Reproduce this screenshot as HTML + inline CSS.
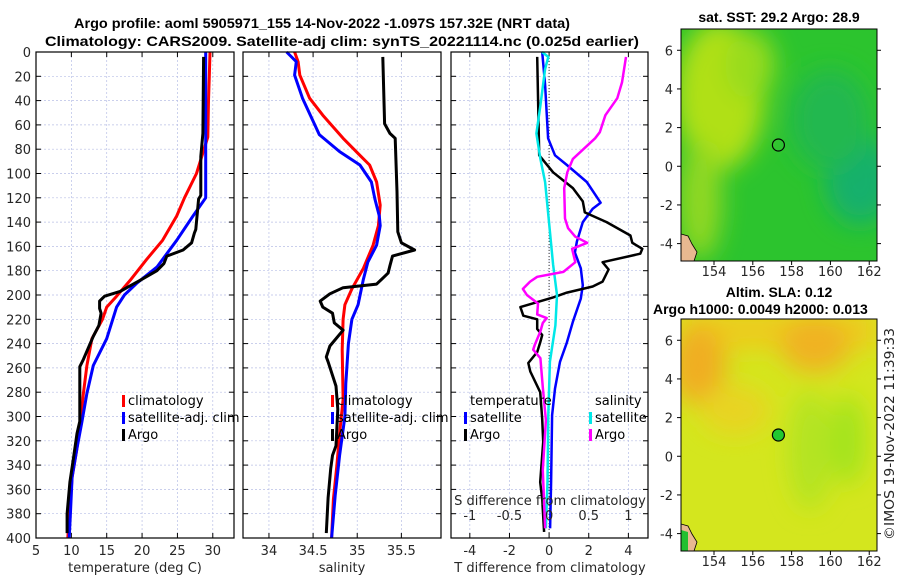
<!DOCTYPE html>
<html><head><meta charset="utf-8"><style>
html,body{margin:0;padding:0;background:#fff;}
svg{display:block;font-family:"DejaVu Sans","Liberation Sans",sans-serif;}
.tk{font-size:13px;fill:#262626;}
.ttl{font-size:14px;font-weight:bold;fill:#000;font-family:"Liberation Sans",sans-serif;}
.lg{font-size:13px;fill:#000;}
</style></head><body>
<svg id="fig" width="900" height="580" viewBox="0 0 900 580" xmlns="http://www.w3.org/2000/svg">
<defs>
<filter id="blur1" x="-50%" y="-50%" width="200%" height="200%"><feGaussianBlur stdDeviation="12"/></filter>
<clipPath id="clipM1"><rect x="681" y="29" width="196" height="232"/></clipPath>
<clipPath id="clipM2"><rect x="681" y="319" width="196" height="232"/></clipPath>
</defs>
<text class="ttl" x="322" y="28" text-anchor="middle" textLength="496" lengthAdjust="spacingAndGlyphs">Argo profile: aoml 5905971_155 14-Nov-2022 -1.097S 157.32E (NRT data)</text>
<text class="ttl" x="342" y="46" text-anchor="middle" textLength="594" lengthAdjust="spacingAndGlyphs">Climatology: CARS2009. Satellite-adj clim: synTS_20221114.nc (0.025d earlier)</text>

<g>
<g clip-path="url(#clipM1)">
<rect x="681" y="29" width="196" height="232" fill="#2cc42e"/>
<g filter="url(#blur1)">
<ellipse cx="720" cy="95" rx="45" ry="75" fill="#b0e014"/>
<ellipse cx="700" cy="200" rx="22" ry="60" fill="#90d820"/>
<ellipse cx="750" cy="65" rx="25" ry="35" fill="#98dc1a"/>
<ellipse cx="860" cy="180" rx="35" ry="45" fill="#14b06c"/>
<ellipse cx="830" cy="120" rx="40" ry="50" fill="#22b850"/>
</g>
<path d="M681,234 L688,236 L692,244 L697,252 L694,261 L681,261 Z" fill="#e8b890" stroke="#000" stroke-width="0.8"/>
</g>
<rect x="681" y="29" width="196" height="232" fill="none" stroke="#000" stroke-width="1"/>
<circle cx="778.4" cy="145" r="6" fill="none" stroke="#000" stroke-width="1.2"/>
<text class="ttl" x="779" y="22" text-anchor="middle">sat. SST: 29.2 Argo: 28.9</text>
</g>
<g>
<g clip-path="url(#clipM2)">
<rect x="681" y="319" width="196" height="232" fill="#d4e61e"/>
<g filter="url(#blur1)">
<rect x="681" y="310" width="196" height="40" fill="#eccc1c"/>
<ellipse cx="698" cy="365" rx="28" ry="40" fill="#f0ae22"/>
<ellipse cx="815" cy="345" rx="35" ry="28" fill="#f0b220"/>
<ellipse cx="735" cy="410" rx="35" ry="25" fill="#e8d420"/>
<ellipse cx="810" cy="450" rx="22" ry="60" fill="#b4e420"/>
<ellipse cx="848" cy="440" rx="18" ry="45" fill="#a4e41c"/>
</g>
<path d="M681,524 L688,526 L692,534 L697,542 L694,551 L681,551 Z" fill="#e8b890" stroke="#000" stroke-width="0.8"/>
<path d="M681,530 L688,532 L688,551 L681,551 Z" fill="#22c030"/>
</g>
<rect x="681" y="319" width="196" height="232" fill="none" stroke="#000" stroke-width="1"/>
<circle cx="778.4" cy="435" r="6" fill="#22c830" stroke="#000" stroke-width="1.2"/>
<text class="ttl" x="779" y="297" text-anchor="middle">Altim. SLA: 0.12</text>
<text class="ttl" x="653" y="314">Argo h1000: 0.0049 h2000: 0.013</text>
</g>
<text class="tk" x="0" y="0" transform="translate(894,540) rotate(-90)" textLength="212" lengthAdjust="spacingAndGlyphs">©IMOS 19-Nov-2022 11:39:33</text>
<g id="plots"></g>
</svg>
<script>
// ---- data ----
const depthTicks = [0,20,40,60,80,100,120,140,160,180,200,220,240,260,280,300,320,340,360,380,400];
const tempTicks = [5,10,15,20,25,30];
const salTicks = [34,34.5,35,35.5];
const tdiffTicks = [-4,-2,0,2,4];
const sdiffTicks = [-1,-0.5,0,0.5,1];
const sdiffLabels = ["-1","-0.5","0","0.5","1"];
const latTicks = [6,4,2,0,-2,-4];
const lonTicks = [154,156,158,160,162];

const climTDepth=[0,20,40,70,100,120,135,155,171,188,201,210,220,236,258,281,304,326,350,375,400];
const climT=[29.6,29.5,29.4,29.3,27.7,26.0,24.9,22.9,20.6,18.3,16.4,15.0,14.4,12.9,12.2,11.7,11.3,10.8,10.1,9.8,9.5];
const satTDepth=[0,60,120,135,155,177,190,200,210,236,258,281,304,326,350,375,400];
const satT=[29.0,29.0,29.0,27.2,24.9,22.1,19.3,17.5,16.4,15.0,13.1,12.2,11.5,10.8,10.1,9.9,9.7];
const argoTDepth=[4,67,86,118,121,146,149,157,163,168,174,180,188,197,201,205,211,215,225,234,253,259,280,304,314,334,354,380,396];
const argoT=[28.7,28.6,28.3,28.3,28.0,27.6,27.4,27.0,25.8,23.5,23.1,22.1,19.7,16.9,14.7,14.0,14.0,14.2,13.9,13.1,11.7,11.2,11.2,11.2,10.8,10.3,9.8,9.4,9.4];

const climSDepth=[0,8,19,38,52,71,85,93,107,126,143,159,178,195,208,220,245,286,314,340,368,400];
const climS=[34.29,34.33,34.35,34.46,34.61,34.84,35.03,35.14,35.22,35.26,35.24,35.18,35.07,34.94,34.86,34.84,34.83,34.84,34.80,34.77,34.73,34.71];
const satSDepth=[0,8,19,38,68,82,93,107,121,135,143,159,173,187,208,220,240,273,300,332,365,400];
const satS=[34.20,34.31,34.29,34.38,34.57,34.80,35.03,35.16,35.20,35.25,35.26,35.22,35.12,35.07,35.01,34.94,34.90,34.87,34.86,34.80,34.75,34.71];
const argoSDepth=[4,59,67,71,115,148,157,163,168,176,182,191,194,199,205,210,215,223,229,242,251,255,275,294,324,332,343,367,396];
const argoS=[35.29,35.31,35.37,35.43,35.45,35.46,35.50,35.65,35.40,35.37,35.35,35.22,34.84,34.69,34.58,34.61,34.72,34.74,34.84,34.69,34.65,34.67,34.76,34.78,34.76,34.72,34.70,34.67,34.65];

const satTdDepth=[0,27,71,85,93,107,124,129,140,156,165,178,192,203,222,239,255,277,299,354,392];
const satTd=[-0.35,-0.2,-0.05,0.3,0.9,1.9,2.6,2.2,1.7,1.4,1.3,1.6,1.7,1.6,1.2,0.9,0.55,0.3,0.15,0.1,0.05];
const argoTdDepth=[4,85,99,112,123,132,140,151,157,162,166,173,179,189,193,198,202,210,217,220,228,233,239,247,256,263,280,302,321,354,368,395];
const argoTd=[-0.6,-0.5,0.2,1.2,1.7,1.8,2.9,4.1,4.2,4.7,4.6,2.7,3.0,2.7,2.2,0.9,0.2,-1.45,-1.3,-0.6,-0.6,-0.35,-0.45,-0.6,-1.05,-0.95,-0.45,-0.35,-0.3,-0.45,-0.35,-0.25];
const satSdDepth=[0,4,14,44,67,88,107,134,175,200,225,255,299,354,392];
const satSd=[-0.09,-0.01,-0.05,-0.11,-0.16,-0.11,-0.05,-0.01,0.05,0.1,0.08,0.01,-0.01,-0.02,-0.04];
const argoSdDepth=[4,25,38,52,66,71,88,99,112,137,145,152,157,162,173,181,185,189,195,200,207,216,219,223,230,241,245,252,276,303,344,392];
const argoSd=[0.97,0.92,0.86,0.71,0.64,0.58,0.30,0.23,0.19,0.2,0.24,0.33,0.48,0.29,0.33,0.18,-0.15,-0.24,-0.33,-0.28,-0.14,-0.15,-0.03,-0.08,-0.11,-0.18,-0.2,-0.11,-0.08,-0.04,-0.08,-0.05];

// ---- layout ----
const NS="http://www.w3.org/2000/svg";
const root=document.getElementById('plots');
const Y0=52,Y1=538;
function yD(d){return Y0+(d/400)*(Y1-Y0);}
function mk(tag,attrs,parent){const e=document.createElementNS(NS,tag);for(const k in attrs)e.setAttribute(k,attrs[k]);(parent||root).appendChild(e);return e;}
const panels=[
 {name:'temperature',x0:36,x1:234,v0:5,v1:33.0},
 {name:'salinity',x0:243,x1:441,v0:33.706,v1:35.949},
 {name:'tdiff',x0:451,x1:648,v0:-4.95,v1:4.99}
];
function xs(p,v){return p.x0+(v-p.v0)/(p.v1-p.v0)*(p.x1-p.x0);}
function xSd(s){return xs(panels[2],s*4);}

function drawFrame(p,ticks,labels,gridTicks){
  const g=mk('g',{});
  
  
  gridTicks.forEach(v=>{
    const x=xs(p,v);
    const l=mk('line',{x1:x,x2:x,y1:Y0,y2:Y1,stroke:'#b8bfe6','stroke-width':0.7,'stroke-dasharray':'2,2'},g);
    
    
  });
  depthTicks.forEach(d=>{
    const y=yD(d);
    const l=mk('line',{x1:p.x0,x2:p.x1,y1:y,y2:y,stroke:'#b8bfe6','stroke-width':0.7,'stroke-dasharray':'2,2'},g);
    
    
    mk('line',{x1:p.x0,x2:p.x0+5,y1:y,y2:y,stroke:'#000','stroke-width':1},g);
    mk('line',{x1:p.x1-5,x2:p.x1,y1:y,y2:y,stroke:'#000','stroke-width':1},g);
  });
  ticks.forEach((v,i)=>{
    const x=xs(p,v);
    mk('line',{x1:x,x2:x,y1:Y1,y2:Y1-5,stroke:'#000','stroke-width':1},g);
    mk('line',{x1:x,x2:x,y1:Y0,y2:Y0+5,stroke:'#000','stroke-width':1},g);
    const t=mk('text',{x:x,y:555,'text-anchor':'middle',class:'tk'},g);
    t.textContent=labels[i];
    
    
  });
  return g;
}
function drawLine(p,vals,depths,color,w,name,xf){
  let d='';
  vals.forEach((v,i)=>{const x=xf?xf(v):xs(p,v);d+=(i?'L':'M')+x.toFixed(1)+','+yD(depths[i]).toFixed(1);});
  const path=mk('path',{d:d,fill:'none',stroke:color,'stroke-width':w,'stroke-linejoin':'round'});
  
  
}
function frameBox(p){
  const r=mk('rect',{x:p.x0,y:Y0,width:p.x1-p.x0,height:Y1-Y0,fill:'none',stroke:'#000','stroke-width':1.2});
  
  
}
function legendEntry(x,y,color,label){
  const r=mk('rect',{x:x,y:y-10,width:3,height:12,fill:color});
  
  
  const t=mk('text',{x:x+6,y:y,class:'lg'});
  t.textContent=label;
  
  
}

// Panel 1
const p1=panels[0];
drawFrame(p1,tempTicks,tempTicks.map(String),tempTicks.slice(1));
depthTicks.forEach(d=>{
  const t=mk('text',{x:31,y:yD(d)+5,'text-anchor':'end',class:'tk'});
  t.textContent=String(d);
  
  
});
drawLine(p1,climT,climTDepth,'#ff0000',3,'climatology-temperature-line');
drawLine(p1,satT,satTDepth,'#0000ff',3,'satellite-temperature-line');
drawLine(p1,argoT,argoTDepth,'#000',3,'argo-temperature-line');
frameBox(p1);
let xl=mk('text',{x:135,y:572,'text-anchor':'middle',class:'tk'});
xl.textContent='temperature (deg C)';


legendEntry(122,405,'#ff0000','climatology');
legendEntry(122,422,'#0000ff','satellite-adj. clim');
legendEntry(122,439,'#000','Argo');

// Panel 2
const p2=panels[1];
drawFrame(p2,salTicks,salTicks.map(String),salTicks);
drawLine(p2,climS,climSDepth,'#ff0000',3,'climatology-salinity-line');
drawLine(p2,satS,satSDepth,'#0000ff',3,'satellite-salinity-line');
drawLine(p2,argoS,argoSDepth,'#000',3,'argo-salinity-line');
frameBox(p2);
xl=mk('text',{x:342,y:572,'text-anchor':'middle',class:'tk'});
xl.textContent='salinity';


legendEntry(331,405,'#ff0000','climatology');
legendEntry(331,422,'#0000ff','satellite-adj. clim');
legendEntry(331,439,'#000','Argo');

// Panel 3
const p3=panels[2];
drawFrame(p3,tdiffTicks,tdiffTicks.map(String),tdiffTicks);
const zl=mk('line',{x1:xs(p3,0),x2:xs(p3,0),y1:Y0,y2:Y1,stroke:'#333','stroke-width':1,'stroke-dasharray':'1,2'});


drawLine(p3,satTd,satTdDepth,'#0000ff',2.5,'satellite-temperature-diff-line');
drawLine(p3,argoTd,argoTdDepth,'#000',2.5,'argo-temperature-diff-line');
drawLine(p3,satSd,satSdDepth,'#00e8e8',2.5,'satellite-salinity-diff-line',xSd);
drawLine(p3,argoSd,argoSdDepth,'#ff00ff',2.5,'argo-salinity-diff-line',xSd);
frameBox(p3);
sdiffTicks.forEach((v,i)=>{
  const t=mk('text',{x:xSd(v),y:520,'text-anchor':'middle',class:'tk'});
  t.textContent=sdiffLabels[i];
  
  
});
xl=mk('text',{x:550,y:505,'text-anchor':'middle',class:'tk'});
xl.textContent='S difference from climatology';


xl=mk('text',{x:550,y:572,'text-anchor':'middle',class:'tk'});
xl.textContent='T difference from climatology';


xl=mk('text',{x:470,y:405,class:'lg'});
xl.textContent='temperature';


xl=mk('text',{x:595,y:405,class:'lg'});
xl.textContent='salinity';


legendEntry(464,422,'#0000ff','satellite');
legendEntry(464,439,'#000','Argo');
legendEntry(589,422,'#00e8e8','satellite');
legendEntry(589,439,'#ff00ff','Argo');

// Map axes
function mapAxes(top,bottom,name){
  const latY=lat=>top+ (7.1-lat)/12*(bottom-top);
  const lonX=lon=>681+(lon-152.3)/10.1*196;
  latTicks.forEach(l=>{
    const y=latY(l);
    mk('line',{x1:877,x2:881,y1:y,y2:y,stroke:'#000','stroke-width':1});
    mk('line',{x1:677,x2:681,y1:y,y2:y,stroke:'#000','stroke-width':1});
    const t=mk('text',{x:673,y:y+5,'text-anchor':'end',class:'tk'});
    t.textContent=String(l);
    
    
  });
  lonTicks.forEach(l=>{
    const x=lonX(l);
    mk('line',{x1:x,x2:x,y1:bottom,y2:bottom+4,stroke:'#000','stroke-width':1});
    const t=mk('text',{x:x,y:bottom+15,'text-anchor':'middle',class:'tk'});
    t.textContent=String(l);
    
    
  });
}
mapAxes(29,261,'sst-map');
mapAxes(319,551,'sla-map');
</script>
</body></html>
